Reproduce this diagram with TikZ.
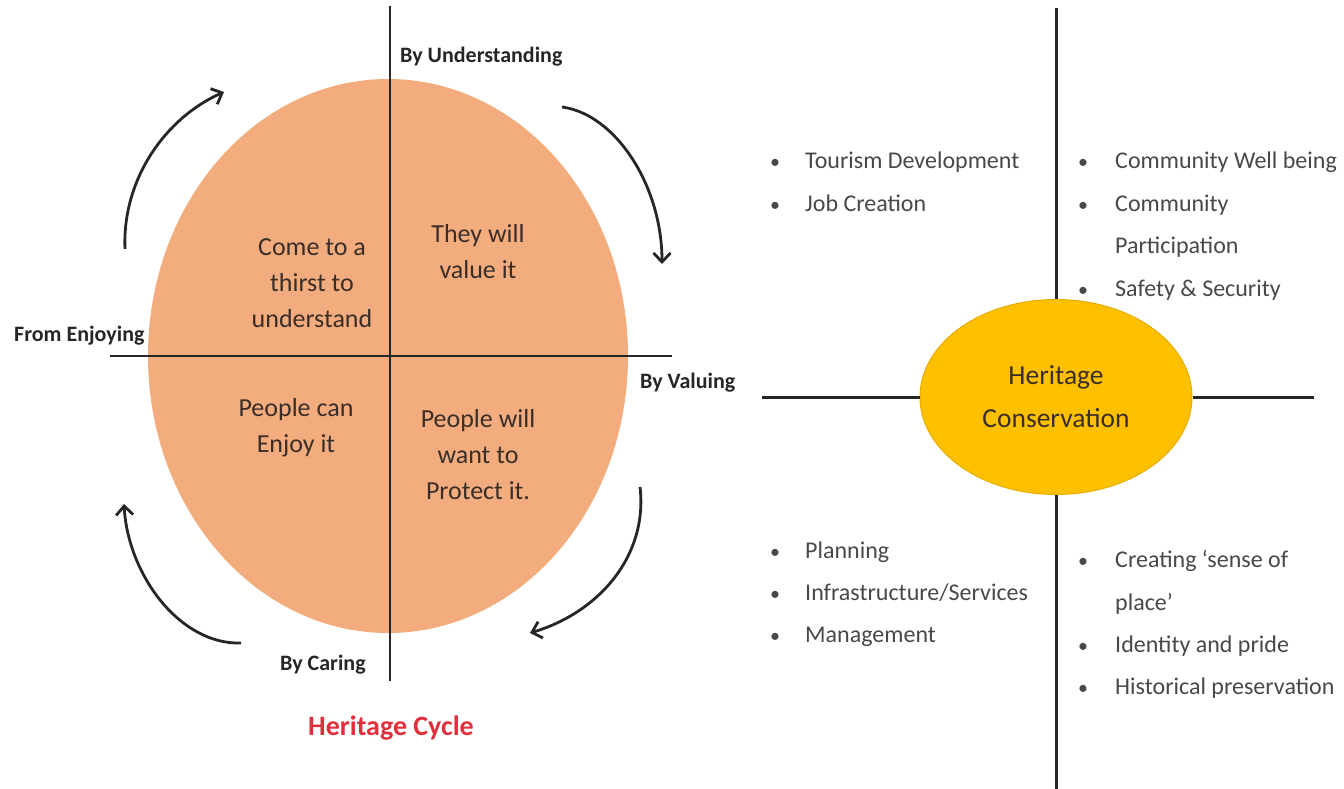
\documentclass[tikz,border=0pt]{standalone}
\usepackage{fontspec}
\setmainfont{Carlito}
\usetikzlibrary{arrows.meta,shapes.geometric}
\definecolor{peach}{HTML}{F2AC7E}
\definecolor{gold}{HTML}{FFC000}
\definecolor{goldedge}{HTML}{E6AC00}
\definecolor{cyclered}{HTML}{E0303C}
\definecolor{quadtext}{HTML}{3A2E28}
\definecolor{listtext}{HTML}{484848}
\tikzset{
  axisline/.style={line width=2.6pt, black!85},
  cyclearrow/.style={line width=2.8pt, black!85, -{Straight Barb[length=9pt,width=17pt,line width=2.8pt]}},
  quadtxt/.style={align=center, text=quadtext, font=\fontsize{26}{36}\selectfont, inner sep=0pt},
  axlabel/.style={anchor=west, font=\bfseries\fontsize{22}{26}\selectfont, text=black!85, inner sep=0pt},
  listitem/.style={anchor=base west, font=\fontsize{24}{28}\selectfont, text=listtext, inner sep=0pt},
  bulletmark/.style={anchor=base, font=\fontsize{20}{28}\selectfont, text=listtext, inner sep=0pt},
}
\begin{document}
\begin{tikzpicture}[x=1pt,y=-1pt]
\useasboundingbox (0,0) rectangle (1344,789);
% ---------- Heritage cycle ----------
\node[ellipse, fill=peach, minimum width=480pt, minimum height=554pt, inner sep=0pt] (circ) at (388,356) {};
\coordinate (vtop) at (390,6);
\coordinate (vbot) at (390,681);
\coordinate (hleft) at (110,356);
\coordinate (hright) at (672,356);
\draw[axisline] (vtop) -- (vbot);
\draw[axisline] (hleft) -- (hright);

\node[quadtxt] (q1) at (312,283) {Come to a\\thirst to\\understand};
\node[quadtxt] (q2) at (478,252) {They will\\value it};
\node[quadtxt] (q3) at (296,428) {People can\\Enjoy it};
\node[quadtxt] (q4) at (478,455) {People will\\want to\\Protect it.};

\node[axlabel] (lu) at (400,57) {By Understanding};
\node[axlabel] (le) at (14,336) {From Enjoying};
\node[axlabel] (lv) at (640,383) {By Valuing};
\node[axlabel] (lc) at (280,665) {By Caring};
\node[font=\bfseries\fontsize{28}{30}\selectfont, text=cyclered, inner sep=0pt] (title) at (391,728) {Heritage Cycle};

\coordinate (t1) at (125,249);
\coordinate (h1) at (224,92);
\coordinate (t2) at (562,107);
\coordinate (h2) at (662,264);
\coordinate (t3) at (640,487);
\coordinate (h3) at (530,633);
\coordinate (t4) at (241,643);
\coordinate (h4) at (124,504);
\draw[cyclearrow] (t1) .. controls (122,180) and (165,118) .. (h1);
\draw[cyclearrow] (t2) .. controls (615,114) and (662,185) .. (h2);
\draw[cyclearrow] (t3) .. controls (648,555) and (600,612) .. (h3);
\draw[cyclearrow] (t4) .. controls (180,645) and (128,575) .. (h4);

% ---------- Heritage conservation ----------
\node[ellipse, fill=gold, draw=goldedge, line width=1pt, minimum width=272pt, minimum height=195pt, inner sep=0pt,
      align=center, text=quadtext, font=\fontsize{27.5}{43}\selectfont] (hc) at (1056,397) {Heritage\\Conservation};
\coordinate (rtop) at (1056,8);
\coordinate (rbot) at (1056,789);
\coordinate (rleft) at (762,397);
\coordinate (rright) at (1314,397);
\draw[axisline, line width=3pt] (rtop) -- (hc.north);
\draw[axisline, line width=3pt] (hc.south) -- (rbot);
\draw[axisline, line width=3pt] (rleft) -- (hc.west);
\draw[axisline, line width=3pt] (hc.east) -- (rright);

% top-left list
\node[bulletmark] (b1) at (775,168) {•};
\node[listitem] (i1) at (805,168) {Tourism Development};
\node[bulletmark] (b2) at (775,211) {•};
\node[listitem] (i2) at (805,211) {Job Creation};
% top-right list
\node[bulletmark] (b3) at (1083,168) {•};
\node[listitem] (i3) at (1115,168) {Community Well being};
\node[bulletmark] (b4) at (1083,211) {•};
\node[listitem] (i4) at (1115,211) {Community};
\node[listitem] (i4b) at (1115,253) {Participation};
\node[bulletmark] (b5) at (1083,296) {•};
\node[listitem] (i5) at (1115,296) {Safety \& Security};
% bottom-left list
\node[bulletmark] (b6) at (775,558) {•};
\node[listitem] (i6) at (805,558) {Planning};
\node[bulletmark] (b7) at (775,600) {•};
\node[listitem] (i7) at (805,600) {Infrastructure/Services};
\node[bulletmark] (b8) at (775,642) {•};
\node[listitem] (i8) at (805,642) {Management};
% bottom-right list
\node[bulletmark] (b9) at (1083,567) {•};
\node[listitem] (i9) at (1115,567) {Creating ‘sense of};
\node[listitem] (i9b) at (1115,610) {place’};
\node[bulletmark] (b10) at (1083,652) {•};
\node[listitem] (i10) at (1115,652) {Identity and pride};
\node[bulletmark] (b11) at (1083,694) {•};
\node[listitem] (i11) at (1115,694) {Historical preservation};
\end{tikzpicture}
\end{document}
